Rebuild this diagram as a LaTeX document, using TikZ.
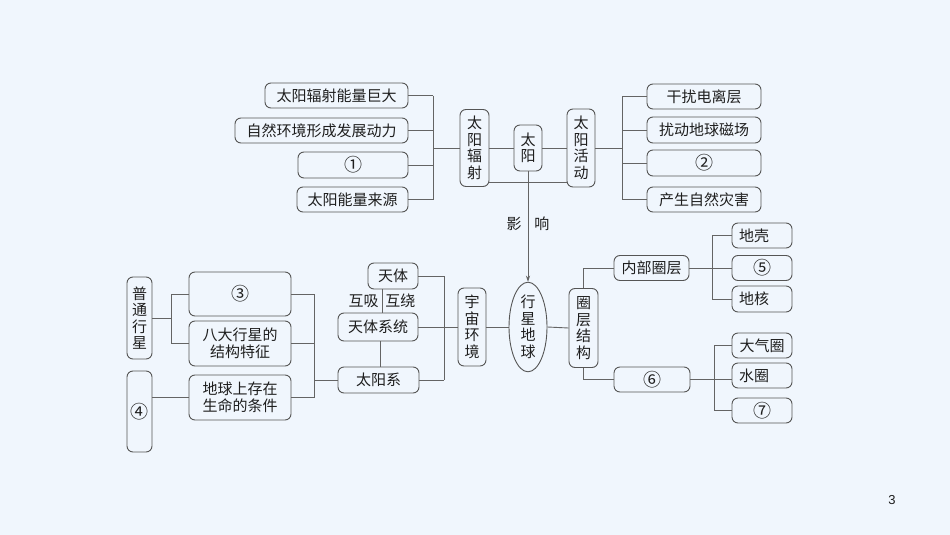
\documentclass[tikz,border=0pt]{standalone}
\usepackage{fontspec}
\newfontfamily\cjk{Noto Sans CJK SC}
\newfontfamily\pnum{Liberation Sans}
\usetikzlibrary{shapes.geometric,arrows.meta}
\definecolor{bgc}{RGB}{240,246,253}
\definecolor{boxc}{RGB}{85,85,85}
\definecolor{linec}{RGB}{100,100,100}
\definecolor{txtc}{RGB}{30,30,30}
\newcommand{\circn}[1]{{\fontsize{18}{18}\selectfont #1}}
\tikzset{
  box/.style={draw=boxc, line width=0.9pt, rounded corners=6pt, inner sep=0pt,
    align=center, text=txtc, font=\cjk\fontsize{15}{16.5}\selectfont},
  lbox/.style={box, align=left, text width=#1, inner xsep=7pt},
  conn/.style={draw=linec, line width=0.9pt},
  lab/.style={text=txtc, font=\cjk\fontsize{15}{16.5}\selectfont, inner sep=3pt}
}
\begin{document}
\begin{tikzpicture}[x=1pt,y=-1pt]
\fill[bgc] (0,0) rectangle (950,535);
\useasboundingbox (0,0) rectangle (950,535);

% top: sun
\node[box, minimum width=143, minimum height=25] (r1) at (336.5,95.5) {太阳辐射能量巨大};
\node[box, minimum width=173, minimum height=25] (r2) at (321.5,130.5) {自然环境形成发展动力};
\node[box, minimum width=110, minimum height=26] (r3) at (353,165) {\circn{①}};
\node[box, minimum width=111, minimum height=25] (r4) at (352.5,199.5) {太阳能量来源};
\node[box, minimum width=29, minimum height=77] (fs) at (474.5,148) {太\\阳\\辐\\射};
\node[box, minimum width=28, minimum height=46] (sun) at (528,148) {太\\阳};
\node[box, minimum width=28, minimum height=78] (ha) at (581,148) {太\\阳\\活\\动};
\node[box, minimum width=114, minimum height=25] (a1) at (704,96.5) {干扰电离层};
\node[box, minimum width=114, minimum height=26] (a2) at (704,130) {扰动地球磁场};
\node[box, minimum width=114, minimum height=26] (a3) at (704,163) {\circn{②}};
\node[box, minimum width=114, minimum height=25] (a4) at (704,199.5) {产生自然灾害};

% middle
\node[box, ellipse, minimum width=38, minimum height=81] (earth) at (528,327) {行\\星\\地\\球};
\node[box, minimum width=28, minimum height=78] (yz) at (472,327) {宇\\宙\\环\\境};
\node[box, minimum width=29, minimum height=79] (qc) at (583.5,328) {圈\\层\\结\\构};

% right lower
\node[box, minimum width=75, minimum height=25] (nb) at (651.5,268) {内部圈层};
\node[lbox=46, minimum height=25] (dk) at (762,235.5) {地壳};
\node[box, minimum width=60, minimum height=25] (c5) at (762,268) {\circn{⑤}};
\node[lbox=46, minimum height=26] (dh) at (762,299) {地核};
\node[box, minimum width=76, minimum height=25] (c6) at (652,379.5) {\circn{⑥}};
\node[box, minimum width=60, minimum height=25] (dq) at (762,345.5) {大气圈};
\node[lbox=46, minimum height=25] (sq) at (762,375.5) {水圈};
\node[box, minimum width=60, minimum height=25] (c7) at (762,410.5) {\circn{⑦}};

% left lower
\node[box, minimum width=50, minimum height=26] (tt) at (393,276) {天体};
\node[box, minimum width=80, minimum height=28] (tx) at (378,327) {天体系统};
\node[box, minimum width=81, minimum height=26] (ty) at (378.5,380) {太阳系};
\node[box, minimum width=102, minimum height=44] (c3) at (240,294) {\circn{③}};
\node[box, minimum width=102, minimum height=45] (bd) at (240,343.5) {八大行星的\\结构特征};
\node[box, minimum width=102, minimum height=45] (sm) at (240,397.5) {地球上存在\\生命的条件};
\node[box, minimum width=25, minimum height=82] (pt) at (139.5,318) {普\\通\\行\\星};
\node[box, minimum width=25, minimum height=81] (c4) at (139.5,411.5) {\circn{④}};

% spine coordinates
\coordinate (s1) at (433,0);
\coordinate (s2) at (622,0);
\coordinate (s3) at (444,0);
\coordinate (s4) at (314,0);
\coordinate (s5) at (171,0);
\coordinate (s6) at (712,0);
\coordinate (s7) at (714,0);
\coordinate (low) at (0,182);
\coordinate (m1) at (382,0);
\coordinate (m2) at (380,0);

% top-left bracket
\draw[conn] (r1.east) -- (r1.east -| s1);
\draw[conn] (r2.east) -- (r2.east -| s1);
\draw[conn] (r3.east) -- (r3.east -| s1);
\draw[conn] (r4.east) -- (r4.east -| s1);
\draw[conn] (r1.east -| s1) -- (r4.east -| s1);
\draw[conn] (fs.west -| s1) -- (fs.west);
% sun row
\draw[conn] (fs.east) -- (sun.west);
\draw[conn] (sun.east) -- (ha.west);
\draw[conn] (fs.east |- low) -- (ha.west |- low);
% top-right bracket
\draw[conn] (ha.east) -- (ha.east -| s2);
\draw[conn] (a1.west -| s2) -- (a4.west -| s2);
\draw[conn] (a1.west -| s2) -- (a1.west);
\draw[conn] (a2.west -| s2) -- (a2.west);
\draw[conn] (a3.west -| s2) -- (a3.west);
\draw[conn] (a4.west -| s2) -- (a4.west);
% influence arrow
\draw[conn, -{Stealth[length=6pt,width=4pt]}] (sun.south) -- (earth.north)
  node[lab, pos=0.47] {影\hspace{13pt}响};
% middle row
\draw[conn] (yz.east) -- (earth.west);
\draw[conn] (earth.east) -- (qc.west);
% universe bracket
\draw[conn] (tt.east) -- (tt.east -| s3);
\draw[conn] (tx.east) -- (tx.east -| s3);
\draw[conn] (ty.east) -- (ty.east -| s3);
\draw[conn] (tt.east -| s3) -- (ty.east -| s3);
\draw[conn] (yz.west -| s3) -- (yz.west);
% celestial hierarchy
\draw[conn] (tt.south -| m1) -- (tx.north -| m1)
  node[lab, pos=0.5, left] {互吸} node[lab, pos=0.5, right] {互绕};
\draw[conn] (tx.south -| m2) -- (ty.north -| m2);
% solar system bracket
\draw[conn] (c3.east) -- (c3.east -| s4);
\draw[conn] (bd.east) -- (bd.east -| s4);
\draw[conn] (sm.east) -- (sm.east -| s4);
\draw[conn] (c3.east -| s4) -- (sm.east -| s4);
\draw[conn] (ty.west -| s4) -- (ty.west);
% ordinary planet
\draw[conn] (pt.east) -- (pt.east -| s5);
\draw[conn] (c3.west -| s5) -- (bd.west -| s5);
\draw[conn] (c3.west -| s5) -- (c3.west);
\draw[conn] (bd.west -| s5) -- (bd.west);
\draw[conn] (sm.west) -- (sm.west -| c4.east);
% spheres
\draw[conn] (qc.north) |- (nb.west);
\draw[conn] (nb.east) -- (c5.west);
\draw[conn] (dk.west -| s6) -- (dh.west -| s6);
\draw[conn] (dk.west -| s6) -- (dk.west);
\draw[conn] (dh.west -| s6) -- (dh.west);
\draw[conn] (qc.south) |- (c6.west);
\draw[conn] (c6.east) -- (c6.east -| sq.west);
\draw[conn] (dq.west -| s7) -- (c7.west -| s7);
\draw[conn] (dq.west -| s7) -- (dq.west);
\draw[conn] (c7.west -| s7) -- (c7.west);

\node[text=txtc, font=\pnum\fontsize{13}{13}\selectfont] (pg) at (892,500) {3};
\end{tikzpicture}
\end{document}
